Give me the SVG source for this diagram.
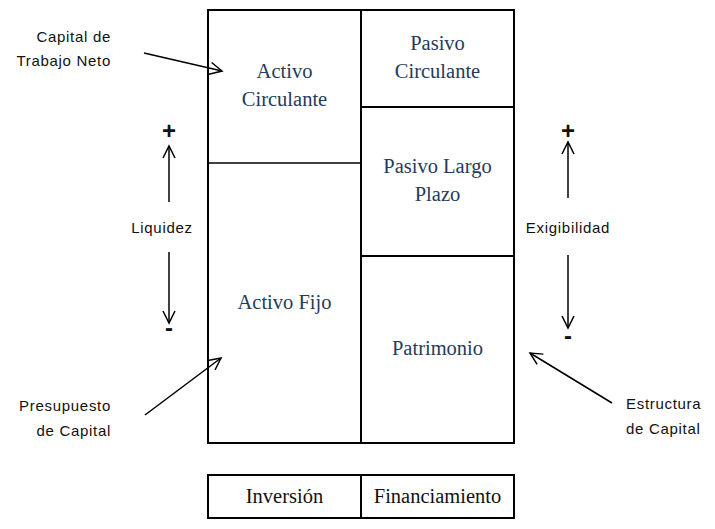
<svg xmlns="http://www.w3.org/2000/svg" width="715" height="529" viewBox="0 0 715 529">
<style>
.box{fill:none;stroke:#000;stroke-width:2}
.thin{stroke:#000;stroke-width:1.4}
.mid{stroke:#000;stroke-width:2}
.bl{font-family:"Liberation Serif","Times New Roman",serif;font-size:20.5px;fill:#243B5C;text-anchor:middle}
.bk{font-family:"Liberation Serif","Times New Roman",serif;font-size:20.5px;fill:#111;text-anchor:middle}
.sl{font-family:"Liberation Sans",Arial,sans-serif;font-size:15px;fill:#111;letter-spacing:0.7px}
.sign{font-family:"Liberation Sans",Arial,sans-serif;font-size:24px;font-weight:bold;fill:#111;text-anchor:middle}
.arr{stroke:#000;stroke-width:1.5;fill:none;marker-end:url(#ah)}
</style>
<defs>
<marker id="ah" markerUnits="userSpaceOnUse" markerWidth="16" markerHeight="16" refX="13" refY="7" orient="auto" viewBox="0 0 16 14">
<polyline points="1,1 13,7 1,13" fill="none" stroke="#000" stroke-width="1.5"/>
</marker>
</defs>
<rect width="715" height="529" fill="#fff"/>
<g id="balance">
<rect class="box" x="208" y="10" width="306" height="433"/>
<line class="mid" x1="361" y1="10" x2="361" y2="443"/>
</g>
<g id="activo-circulante">
<line class="thin" x1="208" y1="163" x2="361" y2="163"/>
<text class="bl" x="284.5" y="78">Activo</text>
<text class="bl" x="284.5" y="106">Circulante</text>
</g>
<g id="activo-fijo">
<text class="bl" x="284.5" y="309">Activo Fijo</text>
</g>
<g id="pasivo-circulante">
<line class="mid" x1="361" y1="107" x2="514" y2="107"/>
<text class="bl" x="437.5" y="50">Pasivo</text>
<text class="bl" x="437.5" y="78">Circulante</text>
</g>
<g id="pasivo-largo-plazo">
<line class="mid" x1="361" y1="256" x2="514" y2="256"/>
<text class="bl" x="437.5" y="173">Pasivo Largo</text>
<text class="bl" x="437.5" y="201">Plazo</text>
</g>
<g id="patrimonio">
<text class="bl" x="437.5" y="355">Patrimonio</text>
</g>
<g id="footer">
<rect class="box" x="208" y="475" width="306" height="43"/>
<line class="mid" x1="361" y1="475" x2="361" y2="518"/>
<text class="bk" x="284.5" y="503">Inversión</text>
<text class="bk" x="437.5" y="503">Financiamiento</text>
</g>
<g id="labels">
<text class="sl" x="111" y="42" text-anchor="end">Capital de</text>
<text class="sl" x="111" y="66" text-anchor="end">Trabajo Neto</text>
<text class="sl" x="111" y="411" text-anchor="end">Presupuesto</text>
<text class="sl" x="111" y="436" text-anchor="end">de Capital</text>
<text class="sl" x="626" y="409">Estructura</text>
<text class="sl" x="626" y="434">de Capital</text>
<text class="sl" x="162" y="233" text-anchor="middle">Liquidez</text>
<text class="sl" x="568" y="233" text-anchor="middle">Exigibilidad</text>
<text class="sign" x="169" y="139">+</text>
<text class="sign" x="169" y="336">-</text>
<text class="sign" x="568" y="139">+</text>
<text class="sign" x="568" y="344">-</text>
</g>
<g id="connectors">
<line class="arr" x1="144" y1="53" x2="222" y2="71"/>
<line class="arr" x1="145" y1="415" x2="221" y2="358"/>
<line class="arr" x1="612" y1="403" x2="530" y2="353"/>
<line class="arr" x1="169" y1="202" x2="169" y2="146"/>
<line class="arr" x1="169" y1="252" x2="169" y2="323"/>
<line class="arr" x1="568" y1="198" x2="568" y2="142"/>
<line class="arr" x1="568" y1="255" x2="568" y2="328"/>
</g>
</svg>
